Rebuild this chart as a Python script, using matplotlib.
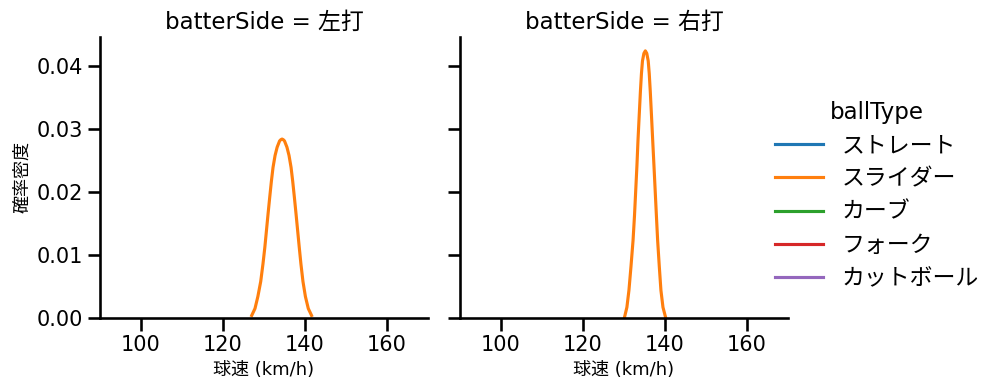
import matplotlib
matplotlib.use('Agg')
from matplotlib import pyplot as plt

plt.rcParams['font.family'] = ['DejaVu Sans', 'Noto Sans CJK JP']

# values
ball_types = ['ストレート', 'スライダー', 'カーブ', 'フォーク', 'カットボール']
colors = ['#1f77b4', '#ff7f0e', '#2ca02c', '#d62728', '#9467bd']
sides = ['左打', '右打']

# slider density curve, left-handed batters
left_speed = [127.0, 127.8, 128.5, 129.2, 129.75, 130.2, 130.6, 131.0, 131.4, 131.8, 132.2,
              132.7, 133.2, 133.8, 134.1, 134.4, 134.7, 135.0, 135.6, 136.1, 136.6, 137.0,
              137.4, 137.8, 138.2, 138.6, 139.0, 139.5, 140.1, 140.8, 141.6]
left_dens = [0.0004, 0.0015, 0.0034, 0.0058, 0.0086, 0.0112, 0.0139, 0.0166, 0.0192, 0.0217, 0.0239,
             0.0258, 0.0271, 0.0281, 0.0283, 0.0284, 0.0283, 0.0281, 0.0271, 0.0258, 0.0239, 0.0217,
             0.0192, 0.0166, 0.0139, 0.0112, 0.0086, 0.0058, 0.0034, 0.0015, 0.0004]

# slider density curve, right-handed batters
right_speed = [130.15, 130.7, 131.2, 131.7, 132.2, 132.55, 132.85, 133.15, 133.4, 133.7, 134.0,
               134.25, 134.5, 134.85, 135.2, 135.55, 135.9, 136.15, 136.4, 136.7, 137.0,
               137.3, 137.6, 137.9, 138.2, 138.6, 139.0, 139.5, 140.1]
right_dens = [0.0002, 0.0017, 0.0044, 0.0082, 0.0123, 0.0162, 0.0202, 0.0242, 0.0281, 0.0321, 0.0360,
              0.0388, 0.0408, 0.0420, 0.0424, 0.0420, 0.0408, 0.0388, 0.0360, 0.0321, 0.0281,
              0.0242, 0.0202, 0.0162, 0.0123, 0.0082, 0.0044, 0.0017, 0.0002]

curves = {'左打': (left_speed, left_dens), '右打': (right_speed, right_dens)}

fig = plt.figure(figsize=(9.97, 3.91), dpi=100)
ax1 = fig.add_axes([0.1003, 0.1867, 0.329, 0.7187])
ax2 = fig.add_axes([0.4614, 0.1867, 0.329, 0.7187], sharey=ax1)

for ax, side in zip([ax1, ax2], sides):
    x, y = curves[side]
    ax.plot(x, y, color=colors[1], lw=2.25)
    ax.set_xlim(90, 170)
    ax.set_ylim(0, 0.0446)
    ax.set_xticks([100, 120, 140, 160])
    ax.set_yticks([0, 0.01, 0.02, 0.03, 0.04])
    ax.spines['top'].set_visible(False)
    ax.spines['right'].set_visible(False)
    for s in ['left', 'bottom']:
        ax.spines[s].set_linewidth(1.875)
    ax.tick_params(labelsize=15, width=1.875, length=9)
    ax.set_title('batterSide = ' + side, fontsize=16.5)
    ax.set_xlabel('球速 (km/h)', fontsize=13)

ax1.set_yticklabels(['0.00', '0.01', '0.02', '0.03', '0.04'])
ax1.set_ylabel('確率密度', fontsize=13)
ax2.tick_params(labelleft=False)

handles = [plt.Line2D([], [], color=c, lw=2.25) for c in colors]
fig.legend(handles, ball_types, title='ballType', loc='center left',
           bbox_to_anchor=(0.757, 0.50), frameon=False, fontsize=16.5,
           title_fontsize=16.5, handlelength=2.1, labelspacing=0.45)

plt.savefig('out.png')
plt.close()
